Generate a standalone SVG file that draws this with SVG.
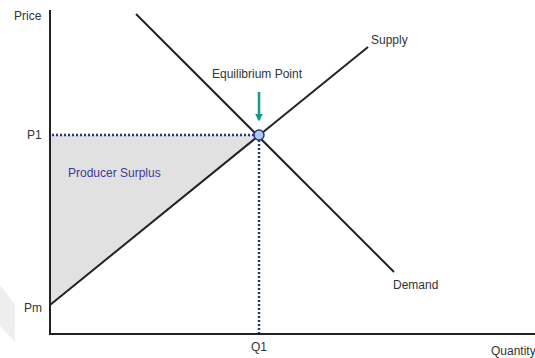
<svg xmlns="http://www.w3.org/2000/svg" width="535" height="358" viewBox="0 0 535 358">
<style>
.t{font-family:"Liberation Sans",Arial,sans-serif;font-size:12px;fill:#333}
.curve{stroke:#222;stroke-width:2;fill:none}
.axis{stroke:#222;stroke-width:2;fill:none}
.dot{stroke:#2b3588;stroke-width:2.5;stroke-dasharray:2 2;fill:none}
</style>
<defs>
<marker id="ah" viewBox="0 0 10 10" refX="8" refY="5" markerWidth="3.2" markerHeight="3.2" orient="auto" markerUnits="strokeWidth">
<path d="M0,0 L10,5 L0,10 z" fill="#139a8e"/>
</marker>
</defs>
<rect width="535" height="358" fill="#fff"/>
<polygon points="0,285 15,305 15,342 0,326" fill="#eeeeee"/>
<g id="surplus">
<polygon points="50,135 259,135 50,305" fill="#e1e1e1"/>
<text class="t" x="68" y="177" style="fill:#3b3b95">Producer Surplus</text>
</g>
<g id="connectors">
<line class="dot" x1="52" y1="135" x2="256" y2="135"/>
<line class="dot" x1="259" y1="140" x2="259" y2="334"/>
<line class="curve" x1="50" y1="305" x2="368" y2="47"/>
<line class="curve" x1="136" y1="14" x2="394" y2="272"/>
<line x1="259" y1="92" x2="259" y2="120" stroke="#139a8e" stroke-width="2.5" marker-end="url(#ah)"/>
</g>
<g id="axes">
<line class="axis" x1="50" y1="10" x2="50" y2="335"/>
<line class="axis" x1="49" y1="334" x2="535" y2="334"/>
<text class="t" x="14" y="20">Price</text>
<text class="t" x="491" y="355">Quantity</text>
</g>
<g id="labels">
<text class="t" x="27" y="139">P1</text>
<text class="t" x="24" y="312">Pm</text>
<text class="t" x="251" y="351">Q1</text>
<text class="t" x="371" y="44">Supply</text>
<text class="t" x="393" y="289">Demand</text>
<text class="t" x="212" y="78">Equilibrium Point</text>
</g>
<g id="equilibrium">
<circle cx="259" cy="135" r="5" fill="#a9cbec" stroke="#2b3588" stroke-width="1.5"/>
</g>
</svg>
